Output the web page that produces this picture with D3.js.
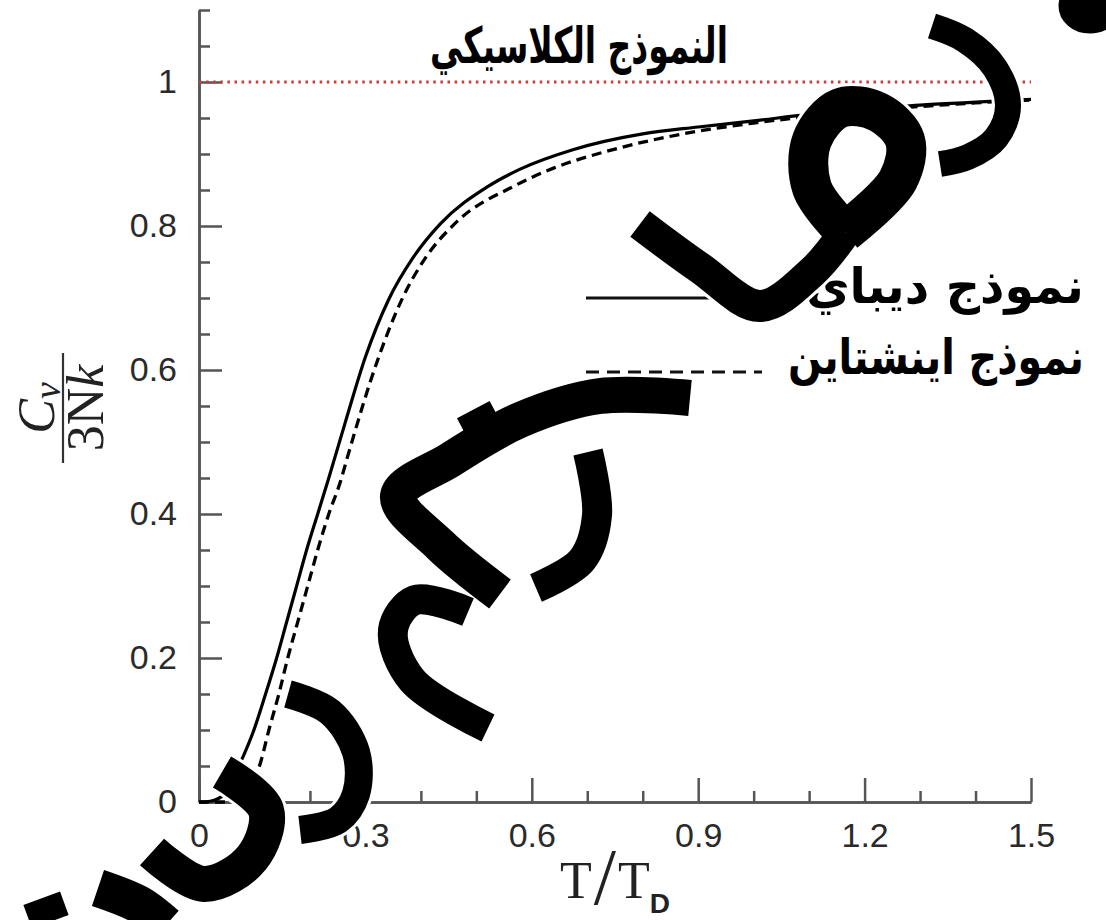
<!DOCTYPE html>
<html lang="ar">
<head>
    <meta charset="utf-8">
    <title>Debye / Einstein heat capacity</title>
    <style>
        body { margin: 0; background: #fff; }
        svg { display: block; }
        .tick text { font-family: "Liberation Sans", Arial, sans-serif; font-size: 34px; fill: #2a2a2a; }
        .arabic { font-family: "DejaVu Sans", sans-serif; font-weight: bold; fill: #000; }
        .serif { font-family: "Liberation Serif", "Times New Roman", serif; fill: #222; }
    </style>
</head>
<body>
<script src="https://d3js.org/d3.v7.min.js"></script>
<script>
// Debye model (solid)
const debyeT = [0, 0.02, 0.03, 0.05, 0.072, 0.099, 0.12, 0.14, 0.158, 0.176, 0.194, 0.214, 0.234, 0.264, 0.3, 0.342, 0.385, 0.435, 0.519, 0.579, 0.674, 0.8, 0.9, 1.0, 1.1, 1.2, 1.3, 1.4, 1.5];
const debyeC = [0, 0.001, 0.003, 0.015, 0.05, 0.1, 0.15, 0.2, 0.25, 0.3, 0.35, 0.4, 0.45, 0.528, 0.618, 0.698, 0.755, 0.803, 0.854, 0.879, 0.906, 0.928, 0.9375, 0.946, 0.955, 0.962, 0.968, 0.972, 0.976];

// Einstein model (dashed)
const einsteinT = [0, 0.05, 0.07, 0.093, 0.111, 0.126, 0.144, 0.16, 0.178, 0.196, 0.214, 0.234, 0.255, 0.268, 0.324, 0.367, 0.405, 0.465, 0.567, 0.638, 0.741, 0.873, 1.0, 1.1, 1.2, 1.3, 1.4, 1.5];
const einsteinC = [0, 0, 0.003, 0.02, 0.055, 0.1, 0.15, 0.2, 0.25, 0.3, 0.35, 0.4, 0.445, 0.48, 0.618, 0.7, 0.752, 0.806, 0.855, 0.88, 0.905, 0.928, 0.943, 0.952, 0.96, 0.966, 0.971, 0.975];

// classical (Dulong-Petit) limit
const classicalValue = 1;

const xTicks = [0, 0.3, 0.6, 0.9, 1.2, 1.5];
const xMinor = [0.1, 0.2, 0.4, 0.5, 0.7, 0.8, 1.0, 1.1, 1.3, 1.4];
const yTicks = [0, 0.2, 0.4, 0.6, 0.8, 1];
const yMinor = [0.05, 0.1, 0.15, 0.25, 0.3, 0.35, 0.45, 0.5, 0.55, 0.65, 0.7, 0.75, 0.85, 0.9, 0.95, 1.05, 1.1];

const classicalLabel = "النموذج الكلاسيكي";
const debyeLabel = "نموذج ديباي";
const einsteinLabel = "نموذج اينشتاين";

const width = 1106;
const height = 920;

const x = d3.scaleLinear().domain([0, 1.5]).range([199, 1031]);
const y = d3.scaleLinear().domain([0, 1.1]).range([802, 10]);

const svg = d3.select("body").append("svg")
    .attr("width", width)
    .attr("height", height);

// axes, ticks pointing inward
const axisColor = "#555";

svg.append("g")
    .attr("transform", `translate(${x(0)},0)`)
    .call(d3.axisLeft(y).tickValues(yMinor).tickSize(-11).tickSizeOuter(0).tickFormat(""));

svg.append("g")
    .attr("transform", `translate(${x(0)},0)`)
    .call(d3.axisLeft(y).tickValues(yTicks).tickSize(-23).tickSizeOuter(0).tickPadding(22).tickFormat(d3.format("")));

svg.append("g")
    .attr("transform", `translate(0,${y(0)})`)
    .call(d3.axisBottom(x).tickValues(xMinor).tickSize(-11).tickSizeOuter(0).tickFormat(""));

svg.append("g")
    .attr("transform", `translate(0,${y(0)})`)
    .call(d3.axisBottom(x).tickValues(xTicks).tickSize(-24).tickSizeOuter(0).tickPadding(21).tickFormat(d3.format("")));

svg.selectAll(".domain, .tick line")
    .attr("stroke", axisColor)
    .attr("stroke-width", 2.5);

// classical limit, red dotted
svg.append("line")
    .attr("x1", x(0)).attr("x2", x(1.5))
    .attr("y1", y(classicalValue)).attr("y2", y(classicalValue))
    .attr("stroke", "#cc3b3b")
    .attr("stroke-width", 3)
    .attr("stroke-dasharray", "2.5,4.6");

const line = d3.line()
    .x(d => x(d[0]))
    .y(d => y(d[1]))
    .curve(d3.curveMonotoneX);

svg.append("path")
    .datum(einsteinT.map((t, i) => [t, einsteinC[i]]))
    .attr("fill", "none")
    .attr("stroke", "#000")
    .attr("stroke-width", 3.3)
    .attr("stroke-dasharray", "10,6")
    .attr("d", line);

svg.append("path")
    .datum(debyeT.map((t, i) => [t, debyeC[i]]))
    .attr("fill", "none")
    .attr("stroke", "#000")
    .attr("stroke-width", 3.2)
    .attr("d", line);

// arabic labels, squeezed horizontally to the measured width
// anchor: 0 = left edge, 0.5 = centre, 1 = right edge at xPos
function arabicText(label, xPos, yPos, anchor, size, len) {
    const t = svg.append("text")
        .attr("class", "arabic")
        .attr("font-size", size)
        .text(label);
    const w = t.node().getComputedTextLength();
    const s = len / w;
    t.attr("transform", `translate(${xPos - anchor * len},${yPos}) scale(${s},1)`);
    return t;
}

arabicText(classicalLabel, 579, 63, 0.5, 50, 298);

// legend
svg.append("line")
    .attr("x1", 586).attr("x2", 792)
    .attr("y1", 298).attr("y2", 298)
    .attr("stroke", "#111").attr("stroke-width", 3);
svg.append("line")
    .attr("x1", 586).attr("x2", 762)
    .attr("y1", 372).attr("y2", 372)
    .attr("stroke", "#111").attr("stroke-width", 3)
    .attr("stroke-dasharray", "13,8");

arabicText(debyeLabel, 1084, 303, 1, 49, 278);
arabicText(einsteinLabel, 1084, 374, 1, 49, 296);

// y label: Cv / 3Nk
const yLab = svg.append("g")
    .attr("transform", "translate(63,408) rotate(-90)");
yLab.append("line")
    .attr("x1", -55).attr("x2", 55)
    .attr("stroke", "#333").attr("stroke-width", 2.2);
const num = yLab.append("text")
    .attr("class", "serif")
    .attr("text-anchor", "middle")
    .attr("y", -9)
    .attr("font-size", 52);
num.append("tspan").attr("font-style", "italic").text("C");
num.append("tspan").attr("font-style", "italic").attr("font-size", 38).attr("dy", 6).text("v");
const den = yLab.append("text")
    .attr("class", "serif")
    .attr("text-anchor", "middle")
    .attr("y", 40)
    .attr("font-size", 52);
den.append("tspan").text("3N");
den.append("tspan").attr("font-style", "italic").text("k");

// x label: T / T_D
const xLab = svg.append("text")
    .attr("class", "serif")
    .attr("x", 560).attr("y", 898)
    .attr("font-size", 52);
xLab.append("tspan").text("T");
xLab.append("tspan").attr("font-size", 80).attr("dx", 2).attr("dy", 6).text("/");
xLab.append("tspan").attr("dx", 2).attr("dy", -6).text("T");
xLab.append("tspan")
    .attr("font-family", "Liberation Sans, sans-serif")
    .attr("font-weight", "bold")
    .attr("font-size", 28)
    .attr("dy", 15)
    .text("D");

// watermark (brush lettering laid over the figure), black with a thin white rim
const wmPaths = [
    { w: 26, p: [[932, 26], [965, 40], [995, 68], [1008, 106], [996, 138], [968, 157], [940, 164]] },
    { w: 32, p: [[640, 224], [700, 268], [760, 306], [812, 272], [845, 232]] },
    { w: 40, p: [[845, 232], [898, 180], [905, 140], [878, 112], [840, 108], [812, 140], [812, 188], [845, 232]] },
    { w: 36, p: [[690, 398], [600, 396], [520, 420], [450, 460], [398, 496], [440, 545], [500, 594]] },
    { w: 30, p: [[588, 452], [597, 515], [582, 560], [536, 588]] },
    { w: 30, p: [[468, 612], [415, 600], [393, 630], [412, 680], [488, 728]] },
    { w: 28, p: [[288, 694], [330, 712], [356, 752], [356, 794], [338, 820], [300, 830]] },
    { w: 36, p: [[222, 772], [266, 810], [252, 858], [204, 884], [152, 852]] },
    { w: 38, p: [[98, 888], [140, 905], [166, 925]] }
];
const wmStroke = d3.line().curve(d3.curveCatmullRom);
const wm = svg.append("g");
wm.selectAll("path.rim")
    .data(wmPaths)
    .join("path")
    .attr("class", "rim")
    .attr("fill", "none")
    .attr("stroke", "#fff")
    .attr("stroke-width", d => d.w + 6)
    .attr("d", d => wmStroke(d.p));
wm.append("ellipse").attr("cx", 1090).attr("cy", 6).attr("rx", 33).attr("ry", 29)
    .attr("fill", "#000").attr("stroke", "#fff").attr("stroke-width", 3);
wm.append("rect").attr("x", -20).attr("y", -20).attr("width", 40).attr("height", 40)
    .attr("transform", "translate(482,426) rotate(-28)")
    .attr("fill", "#000").attr("stroke", "#fff").attr("stroke-width", 3);
wm.append("rect").attr("x", -21).attr("y", -14).attr("width", 42).attr("height", 28)
    .attr("transform", "translate(46,910) rotate(-20)")
    .attr("fill", "#000").attr("stroke", "#fff").attr("stroke-width", 3);
wm.selectAll("path.ink")
    .data(wmPaths)
    .join("path")
    .attr("class", "ink")
    .attr("fill", "none")
    .attr("stroke", "#000")
    .attr("stroke-width", d => d.w)
    .attr("d", d => wmStroke(d.p));
</script>
</body>
</html>
